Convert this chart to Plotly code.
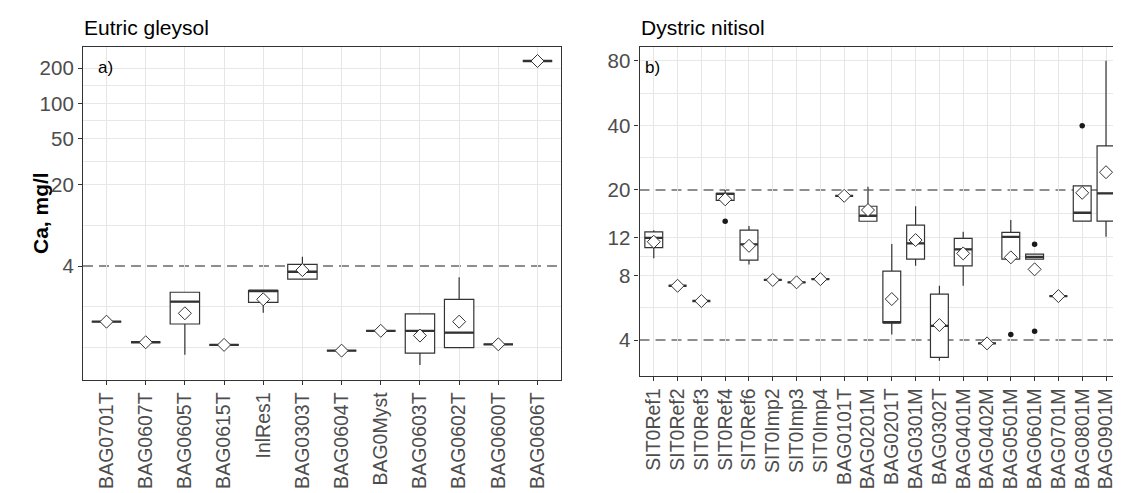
import math
import plotly.graph_objects as go

# ---------------- data ----------------
cats_a = ["BAG0701T", "BAG0607T", "BAG0605T", "BAG0615T", "InlRes1", "BAG0303T",
          "BAG0604T", "BAG0Myst", "BAG0603T", "BAG0602T", "BAG0600T", "BAG0606T"]
lo_a = [1.33, 0.885, 0.69, 0.84, 1.59, 3.09, 0.75, 1.11, 0.565, 0.797, 0.85, 231]
q1_a = [1.33, 0.885, 1.27, 0.84, 1.95, 3.09, 0.75, 1.11, 0.713, 0.797, 0.85, 231]
med_a = [1.33, 0.885, 1.98, 0.84, 2.46, 3.57, 0.75, 1.11, 1.11, 1.07, 0.85, 231]
q3_a = [1.33, 0.885, 2.38, 0.84, 2.46, 4.14, 0.75, 1.11, 1.55, 2.07, 0.85, 231]
hi_a = [1.33, 0.885, 2.38, 0.84, 2.46, 4.81, 0.75, 1.11, 1.55, 3.20, 0.85, 231]
mean_a = [1.33, 0.885, 1.57, 0.84, 2.07, 3.69, 0.75, 1.11, 1.01, 1.33, 0.85, 231]

cats_b = ["SIT0Ref1", "SIT0Ref2", "SIT0Ref3", "SIT0Ref4", "SIT0Ref6", "SIT0Imp2",
          "SIT0Imp3", "SIT0Imp4", "BAG0101T", "BAG0201M", "BAG0201T", "BAG0301M",
          "BAG0302T", "BAG0401M", "BAG0402M", "BAG0501M", "BAG0601M", "BAG0701M",
          "BAG0801M", "BAG0901M"]
lo_b = [9.61, 7.16, 6.08, 17.9, 9.0, 7.62, 7.43, 7.69, 18.79, 14.3, 4.25, 8.87,
        3.2, 7.16, 3.86, 9.53, 9.53, 6.41, 14.33, 12.1]
q1_b = [10.77, 7.16, 6.08, 17.9, 9.43, 7.62, 7.43, 7.69, 18.79, 14.3, 4.82, 9.53,
        3.32, 8.87, 3.86, 9.53, 9.53, 6.41, 14.33, 14.33]
med_b = [11.98, 7.16, 6.08, 19.2, 11.17, 7.62, 7.43, 7.69, 18.79, 15.17, 4.82, 11.28,
         4.66, 10.58, 3.86, 12.1, 9.77, 6.41, 15.67, 19.3]
q3_b = [12.77, 7.16, 6.08, 19.3, 13.0, 7.62, 7.43, 7.69, 18.79, 16.8, 8.38, 13.73,
        6.55, 11.9, 3.86, 12.7, 10.06, 6.41, 20.9, 32.1]
hi_b = [13.0, 7.16, 6.08, 20.0, 13.6, 7.62, 7.43, 7.69, 18.79, 20.7, 11.2, 16.8,
        7.16, 12.77, 3.86, 14.5, 10.06, 6.41, 20.9, 80]
mean_b = [11.48, 7.16, 6.08, 18.1, 10.99, 7.62, 7.43, 7.69, 18.79, 16.13, 6.21, 11.69,
          4.70, 10.13, 3.86, 9.71, 8.54, 6.41, 19.4, 24.2]
out_b_cat = ["SIT0Ref4", "BAG0501M", "BAG0601M", "BAG0601M", "BAG0801M"]
out_b_val = [14.3, 4.25, 11.17, 4.40, 39.8]

yticks_a = [4, 20, 50, 100, 200]
yticks_b = [4, 8, 12, 20, 40, 80]
ref_a = [4]
ref_b = [4, 20]
titles = ["Eutric gleysol", "Dystric nitisol"]
ylabel = "Ca, mg/l"

# ---------------- style ----------------
OFF = 8                      # page body margin
W, H = 1121 - OFF, 493 - OFF
FONT = "Liberation Sans, Arial, sans-serif"
DARK = "#333333"
GRID = "#E6E6E6"
TICKC = "#4D4D4D"


def px_x(p):
    return (p - OFF) / W


def px_y(p):
    return (H - (p - OFF)) / H


def geo_mid(vals):
    return [math.sqrt(a * b) for a, b in zip(vals[:-1], vals[1:])]


def grid_vals(major, extra, refs):
    vals = sorted(set(major + geo_mid(extra + major) + extra))
    return [v for v in vals if v not in refs]


fig = go.Figure()


def add_panel(cats, lo, q1, med, q3, hi, mean, xa, ya):
    idx = list(range(len(cats)))
    fig.add_trace(go.Box(x=idx, q1=q1, median=med, q3=q3, lowerfence=lo, upperfence=hi,
                         width=0.75, whiskerwidth=0, fillcolor="white",
                         line=dict(color=DARK, width=1.2), boxpoints=False,
                         xaxis=xa, yaxis=ya, hoverinfo="skip"))
    # thick median bar (ggplot fatten)
    fig.add_trace(go.Box(x=idx, q1=med, median=med, q3=med, lowerfence=med, upperfence=med,
                         width=0.75, whiskerwidth=0, fillcolor="rgba(0,0,0,0)",
                         line=dict(color=DARK, width=2.3), boxpoints=False,
                         xaxis=xa, yaxis=ya, hoverinfo="skip"))
    fig.add_trace(go.Scatter(x=idx, y=mean, mode="markers",
                             marker=dict(symbol="diamond", size=10, color="white",
                                         line=dict(color=DARK, width=1)),
                             xaxis=xa, yaxis=ya, hoverinfo="skip"))


add_panel(cats_a, lo_a, q1_a, med_a, q3_a, hi_a, mean_a, "x", "y")
add_panel(cats_b, lo_b, q1_b, med_b, q3_b, hi_b, mean_b, "x2", "y2")
fig.add_trace(go.Scatter(x=[cats_b.index(c) for c in out_b_cat], y=out_b_val,
                         mode="markers", marker=dict(color="#1A1A1A", size=5.5),
                         xaxis="x2", yaxis="y2", hoverinfo="skip"))

# reference dashed lines
for yr, xr, vals in (("y", "x", ref_a), ("y2", "x2", ref_b)):
    for v in vals:
        fig.add_shape(type="line", xref=xr + " domain", x0=0, x1=1, yref=yr, y0=v, y1=v,
                      line=dict(color="#8E8E8E", width=2, dash="10px,6px"), layer="below")

# geometry (page pixels)
ax_a = [px_x(83), px_x(561)]
ax_b = [px_x(639.5), 1.0]
ay_a = [px_y(379.5), px_y(47)]
ay_b = [px_y(375.5), px_y(47)]

common_x = dict(showline=True, linecolor=DARK, linewidth=1.2, ticks="outside", ticklen=4,
                tickcolor=DARK, tickangle=-90,
                tickfont=dict(family=FONT, size=19.5, color=TICKC), showgrid=True,
                gridcolor=GRID, gridwidth=1.3, zeroline=False, tickmode="array")
common_y = dict(type="log", showline=True, linecolor=DARK, linewidth=1.2, ticks="outside",
                ticklen=4, tickcolor=DARK,
                tickfont=dict(family=FONT, size=20.5, color=TICKC), showgrid=False,
                zeroline=False, tickmode="array")

grid_a = grid_vals(yticks_a, [0.8], ref_a)
grid_b = grid_vals(yticks_b, [], ref_b)
grid_style = dict(showgrid=True, gridcolor="#E8E8E8", gridwidth=1.3, ticks="")

fig.update_layout(
    width=W, height=H, margin=dict(l=0, r=0, t=0, b=0),
    paper_bgcolor="white", plot_bgcolor="white", showlegend=False, boxmode="overlay",
    xaxis=dict(domain=ax_a, anchor="y", range=[-0.6, len(cats_a) - 0.4], mirror=True,
               tickvals=list(range(len(cats_a))), ticktext=cats_a, **common_x),
    yaxis=dict(domain=ay_a, anchor="x", range=[-0.373, 2.484], mirror=True,
               tickvals=yticks_a, ticktext=[str(v) for v in yticks_a],
               minor=dict(tickvals=grid_a, **grid_style), **common_y),
    xaxis2=dict(domain=ax_b, anchor="y2", range=[-0.6, 19.63], mirror=True,
                tickvals=list(range(len(cats_b))), ticktext=cats_b, **common_x),
    yaxis2=dict(domain=ay_b, anchor="x2", range=[0.437, 1.967], mirror=False,
                tickvals=yticks_b, ticktext=[str(v) for v in yticks_b],
                minor=dict(tickvals=grid_b, **grid_style), **common_y),
)

ann = [
    dict(text=titles[0], x=px_x(82), y=px_y(28), xanchor="left", yanchor="middle",
         font=dict(family=FONT, size=21, color="black")),
    dict(text=titles[1], x=px_x(638.5), y=px_y(28), xanchor="left", yanchor="middle",
         font=dict(family=FONT, size=21, color="black")),
    dict(text="a)", x=px_x(96), y=px_y(67), xanchor="left", yanchor="middle",
         font=dict(family=FONT, size=17, color="black")),
    dict(text="b)", x=px_x(643), y=px_y(67), xanchor="left", yanchor="middle",
         font=dict(family=FONT, size=17, color="black")),
    dict(text="<b>" + ylabel + "</b>", x=px_x(40), y=px_y(213), textangle=-90,
         xanchor="center", yanchor="middle", font=dict(family=FONT, size=21, color="black")),
]
for a in ann:
    a.update(xref="paper", yref="paper", showarrow=False)
fig.update_layout(annotations=ann)

fig.write_html("out.html")
